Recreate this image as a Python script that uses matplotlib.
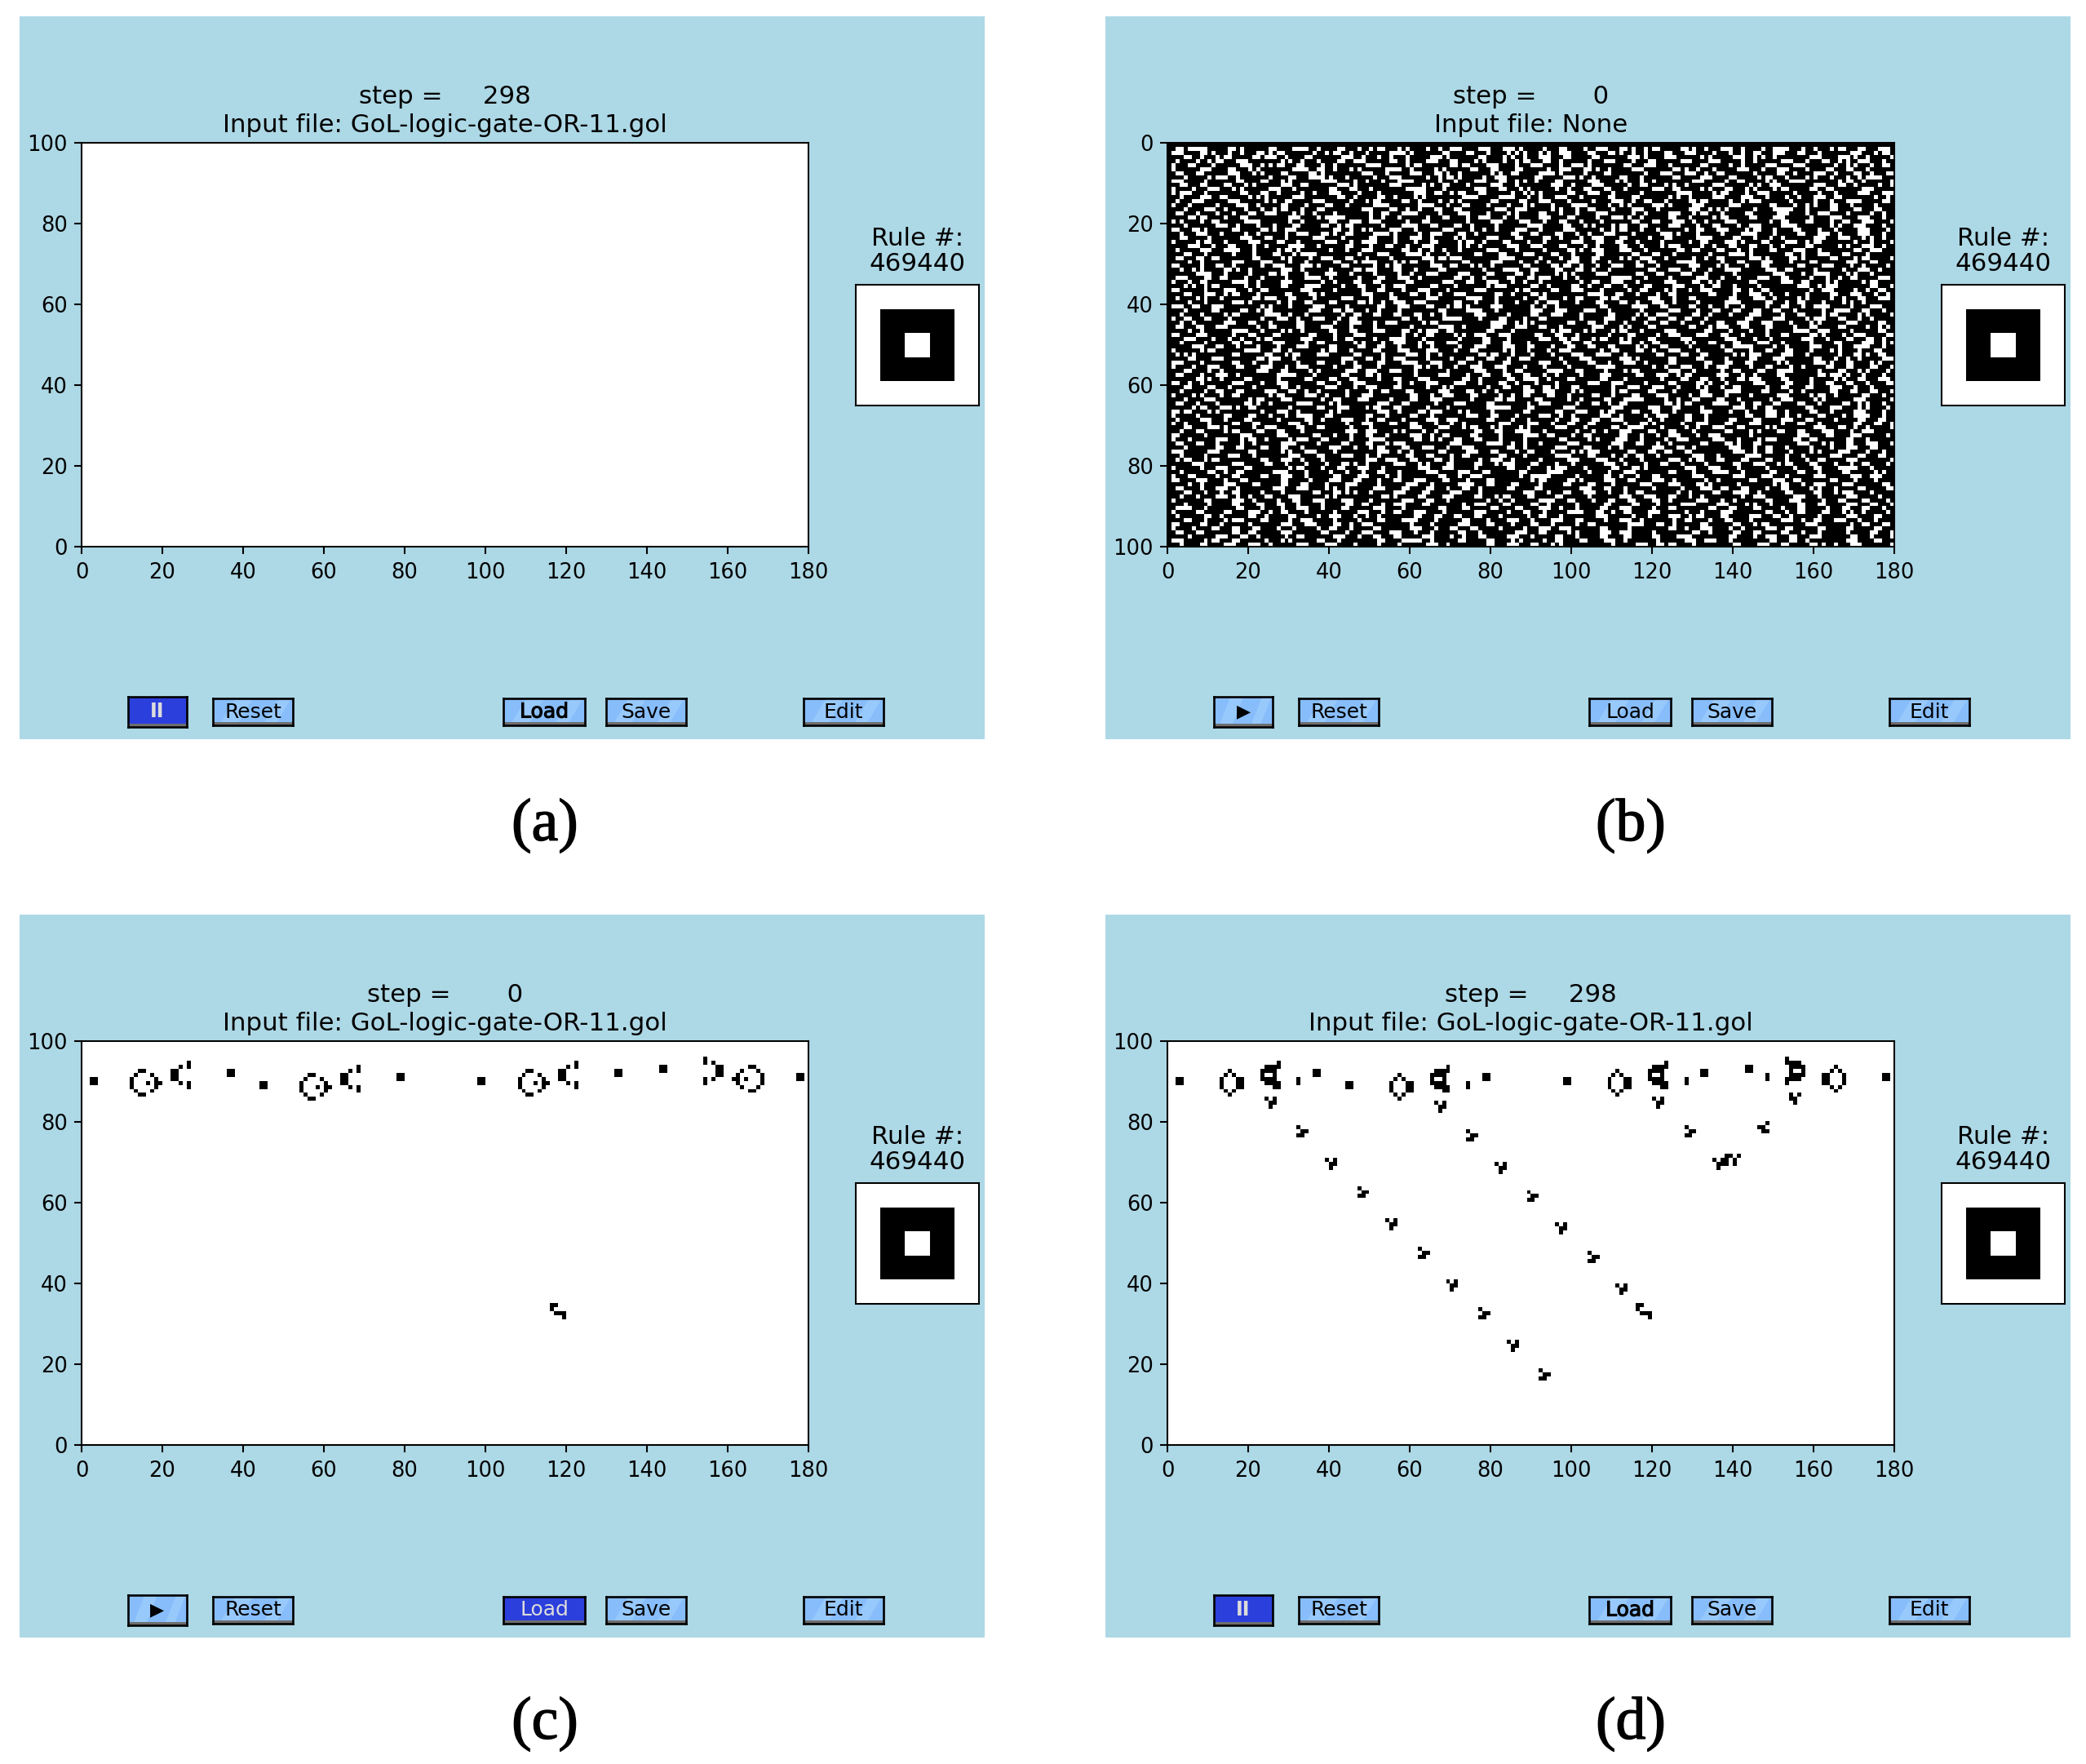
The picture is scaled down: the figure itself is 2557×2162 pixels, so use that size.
import numpy as np
import matplotlib
matplotlib.use("Agg")
import matplotlib.pyplot as plt
from matplotlib.patches import Rectangle, Polygon
import matplotlib.patheffects as pe

W, H = 2557, 2162

# small Game of Life shapes
BLOCK = ["##", "##"]
BAR = ["#", "#"]
RING = ["..##....", ".#...#..", "#.....#.", "#...#.##", "#.....#.", ".#...#..", "..##...."]
RING_M = ["....##..", "..#...#.", ".#.....#", "##.#...#", ".#.....#", "..#...#.", "....##.."]
GUN = ["....#", "..#.#", "##...", "##...", "##...", "..#.#", "....#"]
GUN_M = ["#....", "#.#..", "...##", "...##", "...##", "#.#..", "#...."]
OVAL = ["..#...", ".#.#..", "#...##", "#...##", "#...##", ".#.#..", "..#..."]
OVAL_M = ["...#..", "..#.#.", "##...#", "##...#", "##...#", "..#.#.", "...#.."]
GUN_D = ["....#", ".####", "####.", "#..#.", "####.", ".####", "...##"]
GUN_DM = ["#....", "####.", ".####", ".#..#", ".####", "####.", "#...."]
SHIP = ["##..", "#...", ".###", "...#"]
GLIDER_Y = ["#.#", ".##", ".#."]
GLIDER_Z = ["#..", ".##", "##."]
GLIDER_YM = ["#.#", "##.", ".#."]
GLIDER_ZM = ["..#", "##.", ".##"]
CRASH = ["...##.#", "#.##.#.", ".###.#.", ".#....."]

# (shape, column, row counted from the top)
panel_c_cells = [
    (BLOCK, 2, 9), (RING, 12, 7), (GUN, 22, 5), (BLOCK, 36, 7), (BLOCK, 44, 10),
    (RING, 54, 8), (GUN, 64, 6), (BLOCK, 78, 8), (BLOCK, 98, 9), (RING, 108, 7),
    (GUN, 118, 5), (BLOCK, 132, 7), (BLOCK, 143, 6), (GUN_M, 154, 4), (RING_M, 161, 6),
    (BLOCK, 177, 8), (SHIP, 116, 65),
]
panel_d_cells = [
    (BLOCK, 2, 9), (OVAL, 13, 7), (GUN_D, 23, 5), (BAR, 32, 9), (BLOCK, 36, 7),
    (BLOCK, 44, 10), (OVAL, 55, 8), (GUN_D, 65, 6), (BAR, 74, 10), (BLOCK, 78, 8),
    (BLOCK, 98, 9), (OVAL, 109, 7), (GUN_D, 119, 5), (BAR, 128, 9), (BLOCK, 132, 7),
    (BLOCK, 143, 6), (BAR, 148, 8), (GUN_DM, 153, 4), (OVAL_M, 162, 6), (BLOCK, 177, 8),
    (SHIP, 116, 65),
    (GLIDER_Y, 24, 14), (GLIDER_Z, 32, 21), (GLIDER_Y, 39, 29), (GLIDER_Z, 47, 36),
    (GLIDER_Y, 54, 44), (GLIDER_Z, 62, 51), (GLIDER_Y, 69, 59), (GLIDER_Z, 77, 66),
    (GLIDER_Y, 84, 74), (GLIDER_Z, 92, 81),
    (GLIDER_Y, 66, 15), (GLIDER_Z, 74, 22), (GLIDER_Y, 81, 30), (GLIDER_Z, 89, 37),
    (GLIDER_Y, 96, 45), (GLIDER_Z, 104, 52), (GLIDER_Y, 111, 60),
    (GLIDER_Y, 120, 14), (GLIDER_Z, 128, 21), (CRASH, 135, 28),
    (GLIDER_ZM, 146, 20), (GLIDER_YM, 154, 13),
]

# panel (b) noise: one hex string per row, 1 bit = white cell.
# Typed by eye to look like the picture, single cells are not exact.
panel_b_rows = [
    "000000000000000000000000000000000000000000000",
    "37c1a061e4312c5093871d046138d2c1a47213c48b18e",
    "70d12358096441e80c310a8a70c69218e112638c40716",
    "0c8b06e4301c89107406148e30603a1c0a0e5201c3a41",
    "212c700a44338190e30a12c6408e1181c38240e2329c4",
    "46103958c24078160361c2384e8063880c120e1c04a26",
    "40e18a01e64503c82818c30271a41c06910711c218c40",
    "3181c50c1a00e20e3480a60f410c0238e4c04190e4323",
    "082e40431e8811c0968270183a40c4060e182c4288978",
    "7040618a03c24478110e3290c0e1448038260a3c02c81",
    "18c3140e603a01c14c20e201c870261481c0a700e3209",
    "4238a07100c6201f080e3140918c40e60a3142c1980e0",
    "5c40319048e1080732c604a818e20403c1613810441c7",
    "10e60a81c0320c8500783c48e206180a41c38848e6012",
    "2381c0a60e0458321280c18e104393106c12e02088f06",
    "4408720c21881e03c46108a10f04a0e8381c06128c410",
    "0872112c4600e1923180738144c21c4072a043e20c318",
    "31088ce14840263c10e10a0c4438120e2c4181c270824",
    "06c2300385f024408c27120e1823a40c4160c3810e1c4",
    "50981e0240c738118020e1c4621018c7243804c3098e1",
    "080e4221832c043c619040783142c60e1184e0f00a384",
    "6340c1a70064a1c40e1243883812c44098e16218441c2",
    "11c41204e34c1e8270c80630c48e103a1043c20c721c4",
    "182038c40e10308e4141c3064270c1181e0c4480e38a4",
    "41620e1881c4f08460b218440e3188204c3a1872c0221",
    "07118483c40c2311c0a40e386120c42e0918c483028e4",
    "20e3c4168088e0324881c2041a70e20330c4861c40338",
    "0c40843178010e1e840c30e1883018c4021e806471840",
    "3198060a138c4101db803c084c60a71024c0e8340c2c1",
    "0480e1c22062f0ac4060e1121c440983e0461c2180e30",
    "608c8138741812c0731480c1b2238c4070a1180c38482",
    "1283480e408370c418021e30c644018e223c0e60811c8",
    "01e2086c21c41048e0e18320a8380c61c4080384f0a20",
    "386611043c810c7201920c6e2403e2081c4438c11260e",
    "44c0f20e024318180e31c4880263881c3280c0e6140b0",
    "0a58120c3c1184e0610170320c8c43070988200e5c031",
    "6043898070408c23840e02c18e1026144e0c98013824c",
    "0c72c2061a00e10c91c0643400f1884c0308e4420c712",
    "214406e3081c2180e03c408c261b01c46018720a0918e",
    "0440e81230c1a4e7018842138430c8e4103c0c4c21480",
    "731c01420e080c70c5a0e02480181e30622208c4f0438",
    "081832c01c6c4840183c4038e1c4040e118c6310278c4",
    "1082c0f2201318c6480e0831c2060a703210e08c2c141",
    "4c61011c8e2600320f84308c020e118cc4018382e3120",
    "12038c40c04713816000f2a018c8423108c71c2140e0c",
    "318e0260c38410081e40e38c4070a18062e30c118304a",
    "0480f10a40c61c32e60184017142c41c0610881e7040c",
    "61c08c3018438024c14e3818c404304e1c6208c1a1383",
    "0e1122c0704c11e10083080e6c58a181c038440710c64",
    "1040d838260284e2c70318403180e4c0a30c3881060e5",
    "038c4210e0c18c42408e1c6118c60a30404f8241c23c4",
    "40b01e3202c41870e118144270130c8e10308c610a118",
    "2a00c0c58703041c9006c4210e3c40618c0ae0e20234c",
    "061c0371001c64e0823189c04380e80c1820c380c4907",
    "7080c44086120c3c70c4180e20c4720c06318140e8c28",
    "423861c4e0430806911c7084103e0091c4e08c2418c31",
    "0c24038c140e71c4040e1303c608580e204c31e043142",
    "308e401f081868041c2318c4821c0c72c0e241806e884",
    "01a4181030c608c380640cf2181840218c46e0c10518e",
    "6480e11c06238048e1c4321080e3820c1a20706118c43",
    "0c31040c81c270c08a0118c68c0238e2144c08c30e220",
    "104c60e3240826181c3240e70a02c1840c3c18240c631",
    "4284c0583908e00c4e1824c3106218704e2081c1640c4",
    "08700b0e0261c10c70106c18120c7c1230c404e0a0381",
    "31081a40f0a00e3021c1804e0464c01ac1e2630c41944",
    "02c74c02063858c08401f860380381c6080e4c030e142",
    "6c28011c80a00e4370a080c0c71618c40e110e4188384",
    "41030c44f180620c4038c20e481c8270c4018e48613c4",
    "20e21810321c4c20e70184408c638120c41860e30418c",
    "4820c6039008e18c2240387118c046811c30e08c40319",
    "0c3a04e0c604200e1c58a140e1033c2091c60a00e3241",
    "1182c318400e70a1200c63c40448e18c2030a18c384e0",
    "6040381c0c44620e4c1820f30980c44e1380800e18702",
    "440e2c82e3043c06518c208060a1c41381c42e1980c40",
    "3188240f041862e00381e4881c038c480c34600e28c71",
    "080c618c40e22c31c4700c80e18480e3201c4c4108e30",
    "70380c0a38400e481838c2610ae03198c00e4c2143844",
    "1041c403861c4818c2603080f0c24c403881e0440e18c",
    "2c58018e4200738c3204e4081c38840e58c30c4260e01",
    "0380e0c4211a40e2860c5c30880e4231040c7161844c2",
    "408e1802c231c4038e080c42e1031a00e3840810c3e20",
    "1032603c20888c40e0e30183c084700c21e2060c41814",
    "4608c18e2061c240189c013e040c88c0380e1c40e0738",
    "61c2300c10e308c70c21802c1a0e30e40480c3980c210",
    "0483860c610e081c40f1860830c2070e1a0402c4e1c06",
    "308e4038e1481c30c4640c18038c40810e6308c144183",
    "0c44c1080c6a20e1838400e231c44c02418f2060c5c20",
    "110e48c3814006830e0c5860c080e38c4802701c40e08",
    "4060e4118e1c2038c401240f184630c81c480c38230c2",
    "0820c318820cc4e1804e1832040c1841e0e1440c60e31",
    "3c406108e2181c201860c30e4418e08c0318608c118c4",
    "41830e4c2041c4c7080e08c41e3261c088700c4c31482",
    "20640c8304e24806318c204c4038110e5860e32040e18",
    "0c42e18270410c3c20610e21c608e404c23080e4c7110",
    "60c4080e3864e00840e1843104c03c640c0c5803804c6",
    "4218c61104c4180e2318208e7018200c8e120e6060c18",
    "3180cc0e0308e1c440c4038c141ce080320c60c440831",
    "040e3204c07118c1c2460e20c41860c3c0184e31c0621",
    "7058c08a06200c3e40c18504c30e4040e710063200e18",
    "10c38e40e1c20840e4018e3140020e6c200c38c1a4701",
]

panel_a_title = ("step = %7d\nInput file: %s" % (298, "GoL-logic-gate-OR-11.gol"))
panel_b_title = ("step = %7d\nInput file: %s" % (0, "None"))
panel_c_title = ("step = %7d\nInput file: %s" % (0, "GoL-logic-gate-OR-11.gol"))
panel_d_title = ("step = %7d\nInput file: %s" % (298, "GoL-logic-gate-OR-11.gol"))

x_ticks = [0, 20, 40, 60, 80, 100, 120, 140, 160, 180]
y_ticks = [0, 20, 40, 60, 80, 100]
rule_number = "469440"
rule_kernel = [
    [0, 0, 0, 0, 0],
    [0, 1, 1, 1, 0],
    [0, 1, 0, 1, 0],
    [0, 1, 1, 1, 0],
    [0, 0, 0, 0, 0],
]
button_labels = ["Reset", "Load", "Save", "Edit"]

BG = "#add8e6"
BTN = "#87bdfb"
BTN_LIGHT = "#98c9fc"
BTN_DOWN = "#2b3fdc"

fig = plt.figure(figsize=(W / 100, H / 100), dpi=100)


def rect(x0, y0, x1, y1):
    # pixel box (y down) to figure fraction
    return [x0 / W, 1 - y1 / H, (x1 - x0) / W, (y1 - y0) / H]


def build_grid(cells):
    grid = np.zeros((100, 180))
    for shape, col, top in cells:
        for i, line in enumerate(shape):
            for j, ch in enumerate(line):
                if ch == "#":
                    grid[top + i, col + j] = 1
    return grid


def hex_grid(rows):
    bits = [[int(b) for c in r.ljust(45, "0")[:45] for b in format(int(c, 16), "04b")] for r in rows]
    return 1 - np.array(bits)


def draw_button(x0, y0, x1, y1, label, down=False, heavy=False, size=18, weight="normal"):
    ax = fig.add_axes(rect(x0, y0, x1, y1), zorder=3)
    ax.set_xlim(0, 1)
    ax.set_ylim(0, 1)
    ax.set_xticks([])
    ax.set_yticks([])
    ax.set_facecolor(BTN_DOWN if down else BTN)
    for s in ax.spines.values():
        s.set_linewidth(1.9)
        s.set_color("black")
    if not down:
        ax.add_patch(Polygon([[0.08, 0], [0.3, 0], [0.5, 1], [0.28, 1]], color=BTN_LIGHT, lw=0))
        ax.add_patch(Polygon([[0.62, 0], [0.78, 0], [0.98, 1], [0.82, 1]], color=BTN_LIGHT, lw=0))
    ax.add_patch(Rectangle((0, 0), 1, 0.11, color="#6e6e6e", lw=0))
    color = "#dcdcdc" if down else "black"
    t = ax.text(0.5, 0.5, label, ha="center", va="center", fontsize=size, color=color,
                family="DejaVu Sans", fontweight=weight)
    if heavy:
        t.set_path_effects([pe.withStroke(linewidth=0.8, foreground=color)])


def draw_panel(dx, dy, grid, title, caption, y_down=False, run_down=False, load_down=False, load_heavy=True):
    back = Rectangle(rect(dx + 24, dy + 20, dx + 1207, dy + 906)[:2], 1183 / W, 886 / H, color=BG, lw=0,
                     transform=fig.transFigure, zorder=-5)
    fig.add_artist(back)

    ax = fig.add_axes(rect(dx + 100, dy + 175, dx + 991, dy + 670))
    extent = (0, 180, 100, 0) if y_down else (0, 180, 0, 100)
    ax.imshow(grid, cmap="gray_r", vmin=0, vmax=1, aspect="auto", origin="upper",
              extent=extent, interpolation="nearest")
    ax.set_xticks(x_ticks)
    ax.set_yticks(y_ticks)
    ax.tick_params(axis="x", labelsize=18.5, length=6.5, width=1.48, pad=7.3)
    ax.tick_params(axis="y", labelsize=18.5, length=6.5, width=1.48, pad=5.8)
    for s in ax.spines.values():
        s.set_linewidth(1.48)
    ax.set_title(title, fontsize=22.2, pad=9.5, linespacing=1.24)

    # rule kernel box
    rx = fig.add_axes(rect(dx + 1049, dy + 349, dx + 1200, dy + 497))
    rx.imshow(rule_kernel, cmap="gray_r", vmin=0, vmax=1, aspect="auto", interpolation="nearest")
    rx.set_xticks([])
    rx.set_yticks([])
    for s in rx.spines.values():
        s.set_linewidth(1.48)
    rx.set_title("Rule #:\n" + rule_number, fontsize=22.2, pad=12.5, linespacing=1.08)

    # buttons
    if run_down:
        draw_button(dx + 157, dy + 854, dx + 229, dy + 891, "II", down=True, size=17, weight="bold")
    else:
        draw_button(dx + 157, dy + 854, dx + 229, dy + 891, "\u25b6", size=16)
    draw_button(dx + 261, dy + 856, dx + 359, dy + 889, button_labels[0])
    draw_button(dx + 617, dy + 856, dx + 717, dy + 889, button_labels[1], down=load_down,
                heavy=load_heavy and not load_down)
    draw_button(dx + 743, dy + 856, dx + 841, dy + 889, button_labels[2])
    draw_button(dx + 985, dy + 856, dx + 1083, dy + 889, button_labels[3])

    t = fig.text((dx + 668) / W, 1 - (dy + 1012) / H, caption, ha="center", va="center",
                 fontsize=53, family="Liberation Serif")
    t.set_path_effects([pe.withStroke(linewidth=1.0, foreground="black")])


empty_grid = build_grid([])
grid_b = hex_grid(panel_b_rows)
grid_c = build_grid(panel_c_cells)
grid_d = build_grid(panel_d_cells)

draw_panel(0, 0, empty_grid, panel_a_title, "(a)", run_down=True)
draw_panel(1331, 0, grid_b, panel_b_title, "(b)", y_down=True, load_heavy=False)
draw_panel(0, 1101, grid_c, panel_c_title, "(c)", load_down=True)
draw_panel(1331, 1101, grid_d, panel_d_title, "(d)", run_down=True)

fig.savefig("out.png", dpi=100)
